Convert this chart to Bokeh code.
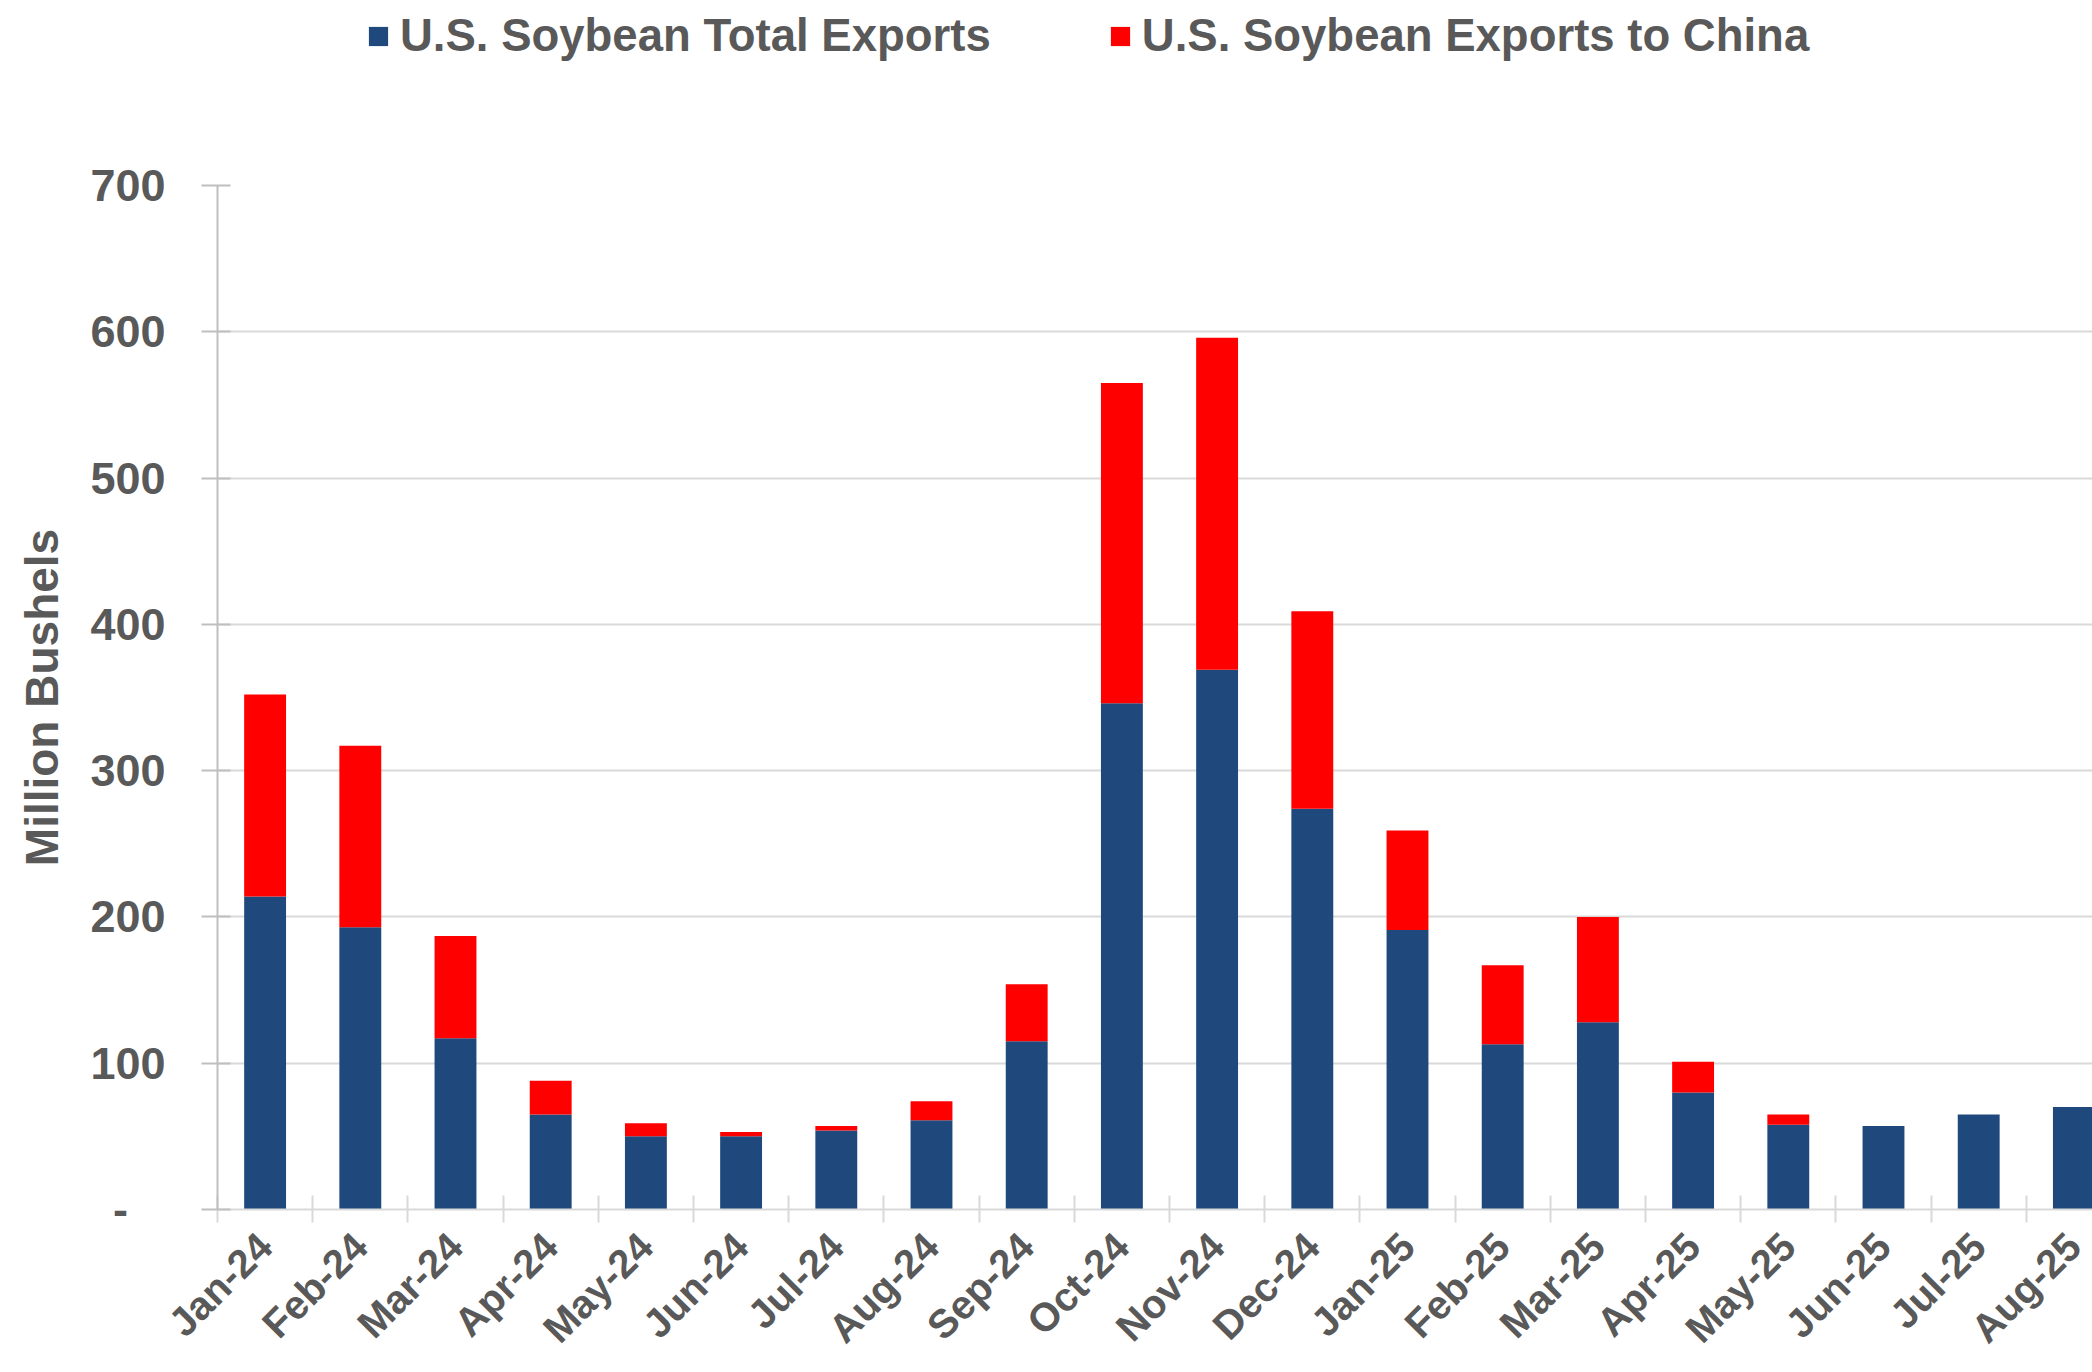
from bokeh.plotting import figure
from bokeh.layouts import column
from bokeh.models import Range1d, FixedTicker, ColumnDataSource, Legend, LegendItem
from bokeh.embed import file_html
from bokeh.resources import INLINE
import math

months = ["Jan-24", "Feb-24", "Mar-24", "Apr-24", "May-24", "Jun-24", "Jul-24", "Aug-24",
          "Sep-24", "Oct-24", "Nov-24", "Dec-24", "Jan-25", "Feb-25", "Mar-25", "Apr-25",
          "May-25", "Jun-25", "Jul-25", "Aug-25"]
total_exports = [214, 193, 117, 65, 50, 50, 54, 61, 115, 346, 369, 274, 191, 113, 128, 80, 58, 57, 65, 70]
china_exports = [138, 124, 70, 23, 9, 3, 3, 13, 39, 219, 227, 135, 68, 54, 72, 21, 7, 0, 0, 0]
series_names = ["U.S. Soybean Total Exports", "U.S. Soybean Exports to China"]
y_ticks = [0, 100, 200, 300, 400, 500, 600, 700]

BLUE = "#1F497D"
RED = "#FF0000"
GREY = "#595959"
FONT = "Liberation Sans"

W, H = 2092, 1372
LEG_H = 155              # legend strip on top
MAIN_H = H - LEG_H
border_left, border_top = 217, 30
frame_bottom = 1209 - LEG_H
border_bottom = MAIN_H - frame_bottom
frame_w = W - border_left
x_end = frame_w / 95.2

# ---------- legend strip ----------
lf = figure(width=W, height=LEG_H, output_backend="svg", toolbar_location=None,
            x_range=Range1d(0, 1), y_range=Range1d(0, 1),
            x_axis_type=None, y_axis_type=None,
            min_border_left=border_left, min_border_right=0, min_border_top=0, min_border_bottom=0)
lf.outline_line_color = None
lf.xgrid.visible = False
lf.ygrid.visible = False
# zero-height placeholder bars (outside the view) that only carry the legend styling
key_src = ColumnDataSource(dict(x=[-5], top=[0]))
r_blue = lf.vbar(x="x", top="top", bottom=0, width=0.5, source=key_src, color=BLUE, line_color=None)
r_red = lf.vbar(x="x", top="top", bottom=0, width=0.5, source=key_src, color=RED, line_color=None)
legend = Legend(items=[LegendItem(label=series_names[0], renderers=[r_blue]),
                       LegendItem(label=series_names[1], renderers=[r_red])],
                orientation="horizontal", location=(366 - border_left, LEG_H - 62),
                padding=0, margin=0, spacing=117, glyph_width=24, glyph_height=24,
                label_standoff=10, border_line_color=None, background_fill_alpha=0,
                label_text_font=FONT, label_text_font_style="bold",
                label_text_font_size="45.5px", label_text_color=GREY)
lf.add_layout(legend, "center")

# ---------- main chart ----------
xs = [i + 0.5 for i in range(len(months))]
src = ColumnDataSource(dict(x=xs, total=total_exports, china=china_exports))

p = figure(width=W, height=MAIN_H, output_backend="svg", toolbar_location=None,
           x_range=Range1d(0, x_end), y_range=Range1d(0, 700),
           min_border_left=border_left, min_border_right=0,
           min_border_top=border_top, min_border_bottom=border_bottom)
p.outline_line_color = None
p.background_fill_color = "white"

p.vbar_stack(["total", "china"], x="x", width=0.44, source=src,
             color=[BLUE, RED], line_color=None)

xa = p.xaxis[0]
xa.ticker = FixedTicker(ticks=xs, minor_ticks=list(range(len(months) + 1)))
xa.major_label_overrides = {x: m for x, m in zip(xs, months)}
xa.major_label_orientation = math.pi / 4
xa.major_tick_line_color = None
xa.major_tick_in = 0
xa.major_tick_out = 0
xa.minor_tick_line_color = "#d9d9d9"
xa.minor_tick_line_width = 2
xa.minor_tick_in = 14
xa.minor_tick_out = 13
xa.axis_line_color = "#d9d9d9"
xa.axis_line_width = 2
xa.major_label_text_font = FONT
xa.major_label_text_font_style = "bold"
xa.major_label_text_font_size = "40px"
xa.major_label_text_color = GREY
xa.major_label_standoff = 17

ya = p.yaxis[0]
ya.ticker = FixedTicker(ticks=y_ticks, minor_ticks=[])
ya.major_label_overrides = {0: "-\u00a0\u00a0\u00a0"}
ya.axis_line_color = "#bfbfbf"
ya.axis_line_width = 2
ya.major_tick_line_color = "#bfbfbf"
ya.major_tick_line_width = 2
ya.major_tick_in = 13
ya.major_tick_out = 16
ya.major_label_text_font = FONT
ya.major_label_text_font_style = "bold"
ya.major_label_text_font_size = "45px"
ya.major_label_text_color = GREY
ya.major_label_standoff = 36
ya.axis_label = "Million Bushels"
ya.axis_label_text_font = FONT
ya.axis_label_text_font_style = "bold"
ya.axis_label_text_font_size = "46px"
ya.axis_label_text_color = GREY
ya.axis_label_standoff = 19

p.xgrid.grid_line_color = None
p.ygrid.ticker = FixedTicker(ticks=y_ticks)
p.ygrid.grid_line_color = "#d9d9d9"
p.ygrid.grid_line_width = 2

layout = column(lf, p, spacing=0)
open("out.html", "w").write(file_html(layout, INLINE))
